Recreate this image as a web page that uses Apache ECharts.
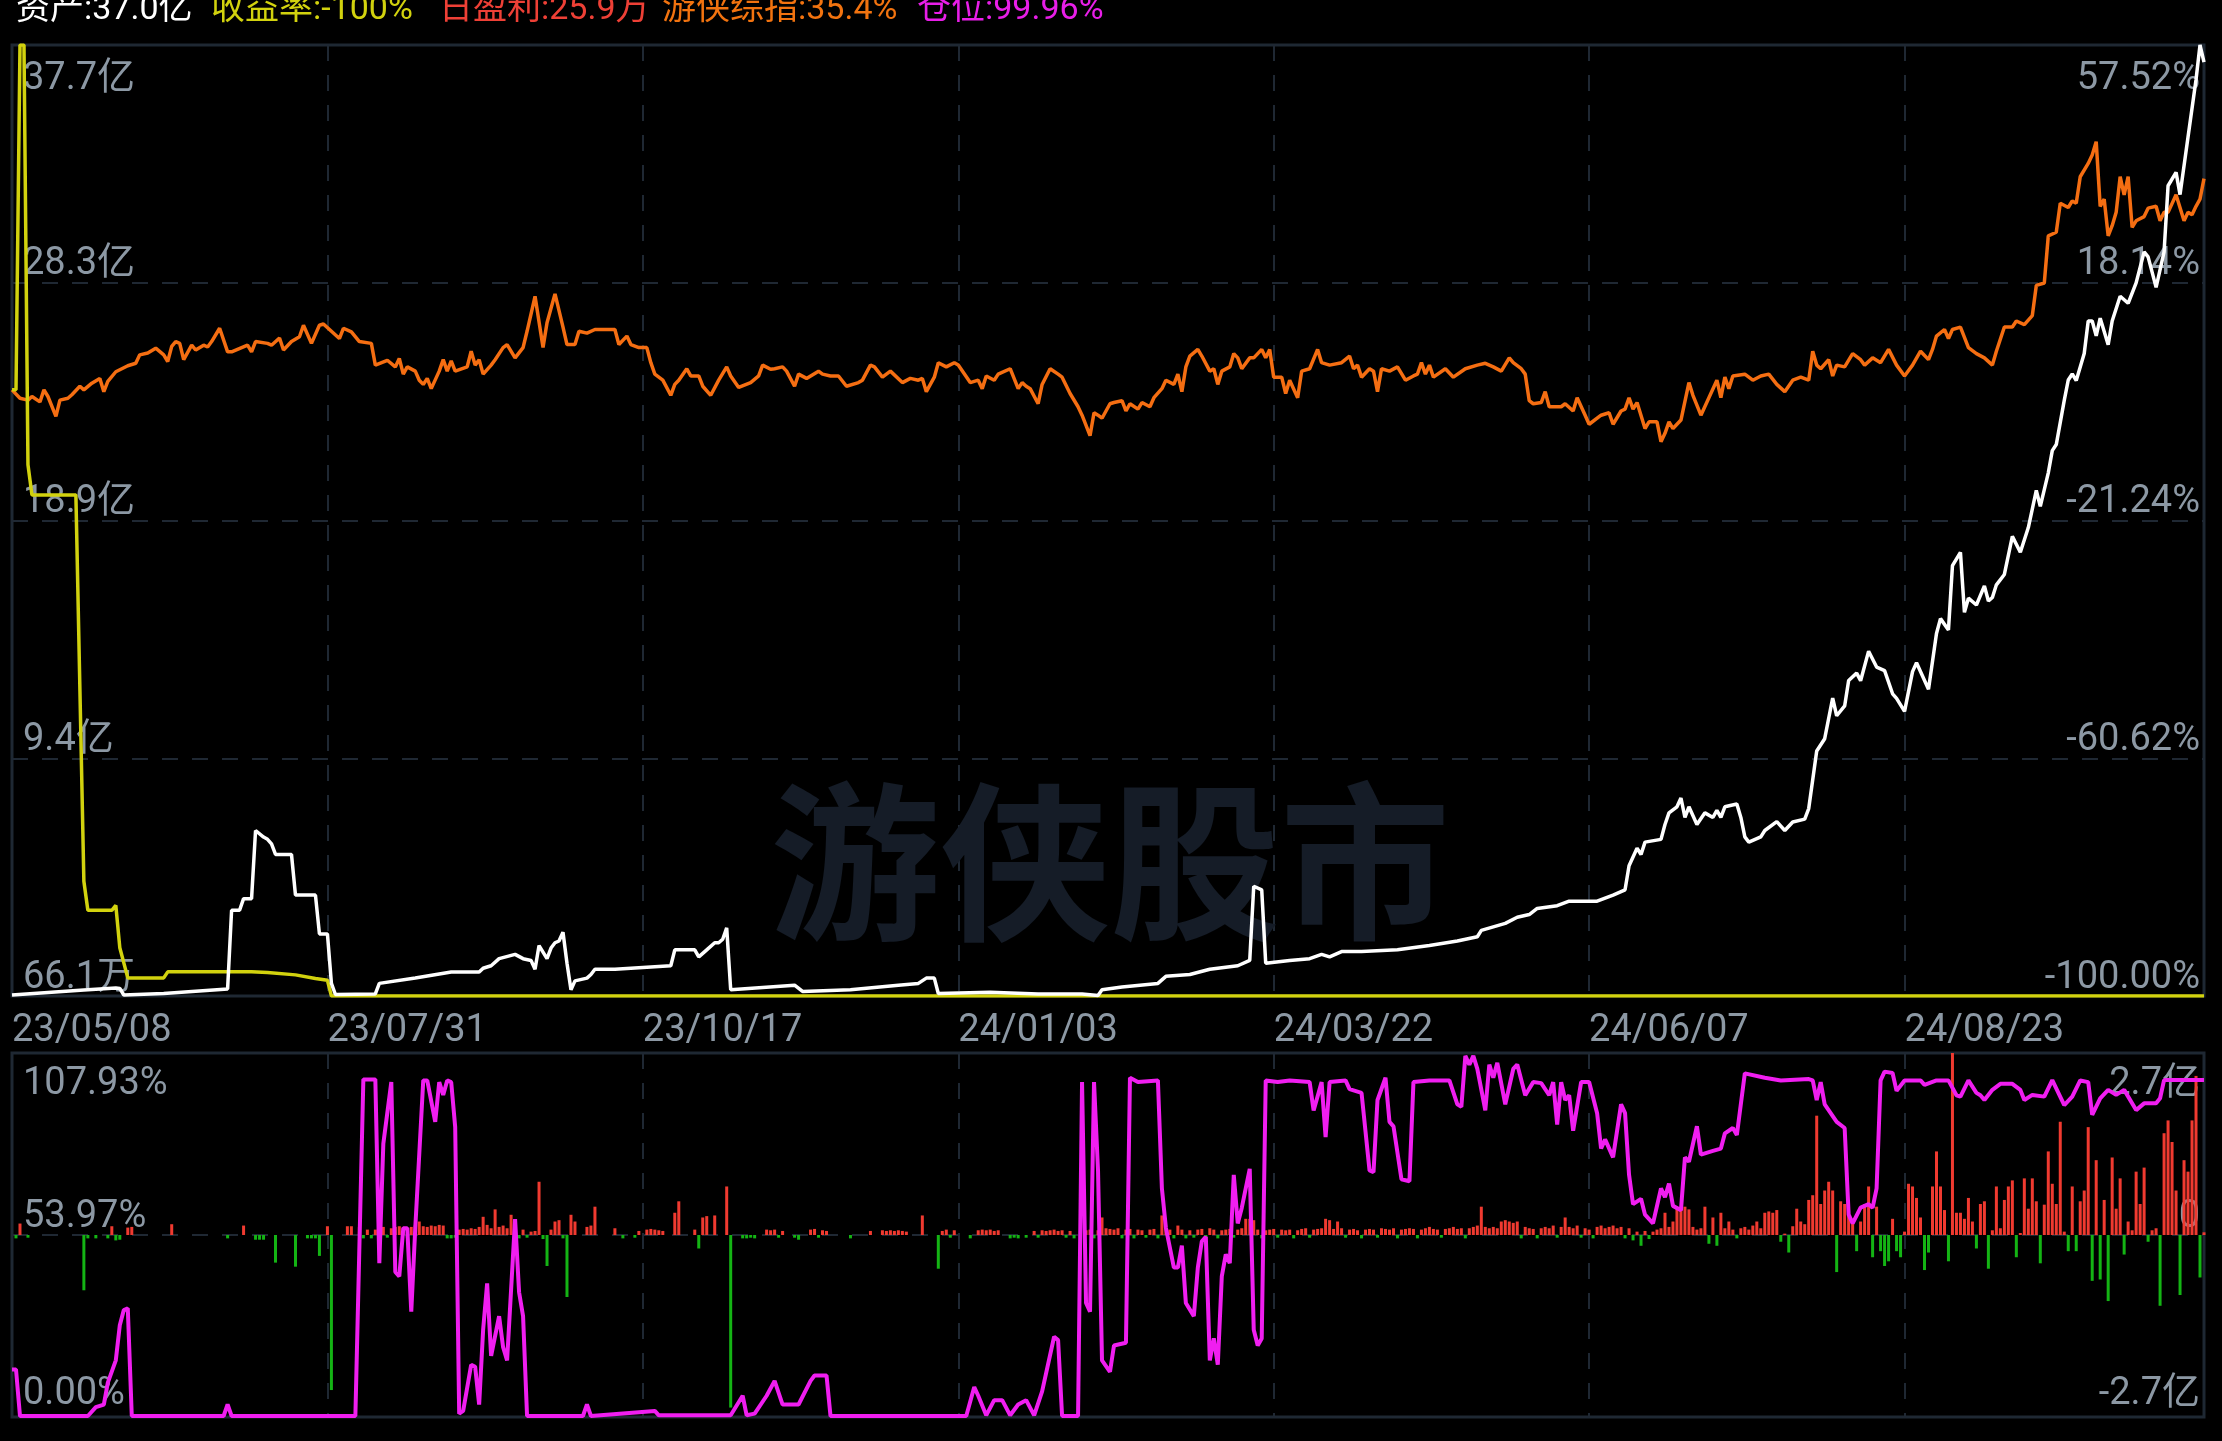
<!DOCTYPE html>
<html>
<head>
<meta charset="utf-8">
<script src="https://cdn.jsdelivr.net/npm/echarts@6/dist/echarts.min.js"></script>
<style>
html,body{margin:0;padding:0;background:#000;}
#c{width:2222px;height:1441px;}
</style>
</head>
<body>
<div id="c"></div>
<script>
// ---------------- data ----------------
const dayCount = 550;
const tickStep = 79;
const xTickLabels = ['23/05/08','23/07/31','23/10/17','24/01/03','24/03/22','24/06/07','24/08/23'];

const assetMax = 37.70;
const assetTicks = ['66.1万','9.4亿','18.9亿','28.3亿','37.7亿'];
const pctMin = -100, pctMax = 57.52;
const pctTickValues = [-100, -60.62, -21.24, 18.14, 57.52];
const pctTickLabels = ['-100.00%','-60.62%','-21.24%','18.14%','57.52%'];
const posMax = 107.93;
const posTicks = ['0.00%','53.97%','107.93%'];
const profitMax = 2.7;
const profitTicks = ['-2.7亿','0','2.7亿'];

const legendTexts = ['资产:37.0亿','收益率:-100%','日盈利:25.9万','游侠综指:35.4%','仓位:99.96%'];
const watermarkText = '游侠股市';

// 资产 (亿) — [dayIndex, value]
const assetLine = [
[0,0.04],[18,0.24],[26,0.32],[27,0.3],[28,0.04],[38,0.1],[54,0.28],[55,3.4],[57,3.4],[58,3.86],[60,3.86],[61,6.56],[63,6.3],[64,6.21],[65,6.03],[66,5.61],[70,5.61],[71,4.0],[76,4.0],[77,2.46],[79,2.46],[80,0.5],[81,0.06],[91,0.08],[92,0.5],[101,0.71],[110,0.95],[117,0.95],[118,1.1],[120,1.2],[122,1.48],[126,1.65],[128,1.48],[130,1.41],[131,1.06],[132,2.0],[134,1.48],[135,1.9],[136,2.11],[137,2.18],[138,2.53],[139,1.3],[140,0.25],[141,0.6],[144,0.71],[145,0.85],[146,1.06],[151,1.06],[158,1.13],[165,1.2],[166,1.83],[171,1.83],[172,1.55],[174,1.83],[176,2.11],[177,2.11],[178,2.25],[179,2.7],[180,0.25],[196,0.43],[198,0.18],[210,0.25],[222,0.43],[227,0.5],[229,0.71],[231,0.71],[232,0.1],[245,0.15],[257,0.08],[268,0.08],[272,0.02],[273,0.25],[278,0.36],[287,0.5],[289,0.78],[295,0.85],[300,1.06],[307,1.2],[310,1.41],[311,4.35],[313,4.21],[314,1.3],[320,1.41],[325,1.48],[328,1.65],[330,1.55],[333,1.76],[338,1.76],[347,1.83],[355,2.0],[362,2.18],[367,2.35],[368,2.6],[374,2.88],[377,3.12],[380,3.23],[382,3.47],[387,3.58],[390,3.76],[397,3.76],[401,4.0],[404,4.21],[405,5.16],[407,5.86],[408,5.61],[409,6.1],[413,6.21],[414,6.8],[415,7.26],[417,7.5],[418,7.85],[419,7.08],[420,7.5],[422,6.8],[424,7.26],[426,7.08],[427,7.36],[428,7.08],[429,7.5],[432,7.61],[433,7.08],[434,6.31],[435,6.1],[438,6.31],[439,6.56],[442,6.91],[444,6.56],[446,6.9],[449,7.01],[450,7.43],[452,9.71],[454,10.2],[456,11.81],[457,11.11],[459,11.5],[460,12.51],[462,12.8],[463,12.5],[465,13.67],[467,13.04],[469,12.9],[471,11.98],[472,11.8],[474,11.28],[476,12.86],[477,13.21],[480,12.16],[482,14.37],[483,14.96],[485,14.51],[486,17.06],[488,17.59],[489,15.21],[490,15.77],[492,15.5],[494,16.26],[495,15.66],[496,15.8],[497,16.3],[499,16.71],[501,18.22],[503,17.59],[505,18.57],[507,20.04],[508,19.41],[510,20.74],[511,21.62],[512,21.86],[514,23.61],[515,24.42],[516,24.66],[517,24.4],[519,25.47],[520,26.76],[521,26.76],[522,26.17],[523,26.87],[525,25.82],[526,26.76],[528,27.74],[530,27.46],[532,28.27],[534,29.5],[535,29.3],[537,28.09],[539,29.5],[540,32.12],[542,32.65],[543,31.77],[545,34.05],[547,36.32],[548,37.7],[549,37.02]
];

// 收益率 (%)
const returnLine = [
[0,0.4],[1,0.4],[2,57.5],[3,57.5],[4,-12],[5,-17],[16,-17],[18,-81],[19,-85.8],[25,-85.8],[26,-85],[27,-92],[29,-97],[38,-97],[39,-96],[60,-96],[64,-96.1],[71,-96.5],[76,-97.1],[79,-97.4],[80,-100],[549,-100]
];

// 游侠综指 (%)
const indexLine = [
[0,0.4],[2,-1.0],[4,-1.3],[5,-0.7],[7,-1.6],[8,0.4],[9,-0.7],[11,-4.0],[12,-1.3],[14,-1.0],[15,-0.4],[17,1.0],[18,0.4],[20,1.5],[22,2.3],[23,0.1],[24,1.8],[26,3.4],[29,4.4],[31,4.8],[32,6.2],[34,6.5],[36,7.3],[38,6.2],[39,5.1],[40,7.6],[41,8.4],[42,8.1],[43,5.4],[45,7.8],[46,7.0],[48,7.8],[49,7.5],[50,8.4],[52,10.6],[54,6.7],[55,6.7],[59,7.8],[60,6.7],[61,8.4],[64,8.1],[65,7.8],[67,9.0],[68,7.0],[70,8.4],[72,9.2],[73,11.1],[75,8.1],[77,11.1],[78,11.3],[82,8.9],[83,10.6],[85,10.0],[87,8.4],[90,8.1],[91,4.5],[94,5.3],[96,4.2],[97,5.6],[98,3.0],[99,4.2],[101,3.5],[102,2.0],[103,1.3],[104,2.3],[105,0.6],[107,3.5],[108,5.4],[109,3.5],[110,5.2],[111,3.5],[114,4.2],[115,6.8],[116,4.5],[117,5.4],[118,3.0],[120,4.5],[121,5.4],[123,7.4],[124,7.9],[126,5.7],[128,7.4],[129,10.1],[131,15.9],[133,7.4],[134,11.5],[136,16.3],[138,10.8],[139,7.9],[141,7.9],[142,10.1],[144,9.8],[146,10.4],[148,10.4],[151,10.4],[152,7.9],[154,9.3],[155,7.9],[157,7.4],[159,7.4],[160,4.9],[161,3.0],[163,2.0],[165,-0.5],[166,1.3],[167,2.0],[169,3.9],[170,2.7],[172,2.7],[173,1.0],[175,-0.5],[177,2.0],[179,4.2],[180,2.7],[182,0.8],[185,1.6],[187,2.7],[188,4.5],[190,3.8],[191,3.9],[193,4.2],[194,3.5],[196,1.0],[197,3.0],[199,2.3],[202,3.5],[203,3.0],[205,2.7],[207,2.7],[209,1.0],[212,1.6],[213,2.0],[215,4.5],[216,4.2],[218,2.5],[220,3.5],[223,1.6],[225,2.3],[227,2.0],[228,2.3],[229,0.1],[231,2.5],[232,4.9],[234,4.2],[236,4.9],[237,4.5],[240,1.6],[242,2.0],[243,0.6],[244,2.7],[246,2.0],[247,3.0],[250,3.9],[252,0.6],[253,1.6],[254,1.0],[255,0.6],[257,-1.9],[258,1.3],[260,3.9],[262,3.0],[263,2.5],[265,-0.2],[267,-2.4],[268,-3.8],[270,-7.2],[271,-3.4],[272,-3.8],[273,-4.3],[275,-1.9],[276,-1.7],[278,-1.4],[279,-3.1],[280,-1.9],[282,-2.8],[283,-1.7],[285,-2.4],[286,-0.9],[288,0.6],[289,2.0],[291,1.3],[292,3.0],[293,0.1],[294,4.2],[295,6.0],[297,7.1],[298,6.0],[300,3.5],[301,3.9],[302,1.3],[303,3.5],[305,4.2],[306,6.4],[307,5.7],[308,3.9],[310,5.7],[311,5.7],[313,7.1],[314,5.7],[315,7.1],[316,2.5],[318,2.5],[319,-0.2],[320,2.0],[322,-0.9],[323,3.5],[325,3.9],[327,7.1],[328,4.9],[330,4.5],[333,4.9],[335,6.0],[336,3.9],[337,4.5],[338,2.5],[340,3.9],[341,3.5],[342,0.1],[343,3.9],[345,3.5],[347,4.2],[349,2.0],[351,2.7],[352,3.0],[353,4.9],[354,3.0],[355,4.5],[356,2.5],[359,3.9],[361,2.5],[364,3.9],[367,4.5],[369,4.8],[371,4.2],[373,3.5],[375,5.7],[376,4.9],[378,3.9],[379,3.0],[380,-1.4],[381,-1.9],[383,-1.7],[384,0.1],[385,-2.4],[388,-2.4],[389,-1.9],[391,-3.1],[392,-0.9],[394,-3.8],[395,-5.3],[398,-3.8],[400,-3.4],[401,-5.3],[403,-3.1],[404,-2.8],[405,-0.9],[406,-2.8],[407,-1.7],[409,-6.0],[410,-4.9],[412,-4.9],[413,-8.2],[414,-6.8],[415,-4.9],[416,-6.0],[418,-4.6],[420,1.6],[421,-0.5],[423,-3.8],[425,-0.9],[427,2.0],[428,-0.9],[429,2.5],[430,0.6],[431,2.7],[434,3.0],[436,2.0],[438,2.7],[440,3.0],[442,1.3],[444,0.1],[446,2.0],[448,2.5],[450,2.0],[451,6.8],[452,4.5],[453,3.9],[455,5.4],[456,2.7],[457,4.5],[459,4.2],[461,6.4],[463,5.4],[464,4.5],[466,5.7],[468,4.9],[470,7.1],[472,4.5],[474,2.7],[476,4.5],[478,6.8],[480,5.4],[481,7.1],[482,9.3],[484,10.4],[485,8.9],[486,10.4],[488,10.8],[490,7.4],[492,6.4],[494,5.7],[496,4.5],[497,6.8],[499,10.8],[501,10.8],[502,11.8],[504,11.2],[506,12.7],[507,17.7],[509,18.1],[510,25.9],[512,26.5],[513,31.3],[515,30.6],[516,31.7],[517,31.3],[518,35.7],[520,37.9],[521,39.3],[522,41.5],[523,30.8],[524,32.0],[525,25.9],[526,27.6],[527,29.8],[528,35.7],[529,32.7],[530,35.7],[531,27.3],[532,28.4],[534,29.1],[535,30.5],[537,30.8],[538,28.4],[539,29.8],[540,29.8],[542,32.7],[544,28.4],[545,29.8],[546,29.4],[547,30.8],[548,32.0],[549,35.4]
];

// 仓位 (%)
const positionLine = [
[0,14.1],[1,14.1],[2,0.3],[19,0.3],[21,2.9],[23,3.7],[24,10.2],[26,16.8],[27,27.2],[28,31.7],[29,32.2],[30,0.3],[53,0.3],[54,3.7],[55,0.3],[86,0.3],[88,100.1],[91,100.1],[92,45.6],[93,81],[95,99.3],[96,43],[97,41.7],[98,56],[99,56],[100,31.2],[101,56],[103,99.8],[104,99.8],[106,87.5],[107,99.3],[108,95.5],[109,99.8],[110,99.3],[111,86],[112,1.0],[113,1.8],[115,15.5],[116,14.9],[117,3.7],[118,25.9],[119,39.6],[120,18.1],[122,29.9],[123,20.7],[124,16.8],[126,58.7],[127,37],[128,29.9],[129,0.3],[143,0.3],[144,3.7],[145,0.3],[161,1.8],[162,0.5],[180,0.5],[183,6.3],[184,0.5],[186,1],[189,6.3],[191,10.7],[193,3.7],[197,3.7],[200,10.7],[201,12.3],[204,12.3],[205,0.3],[239,0.3],[241,8.9],[242,6.3],[244,0.5],[246,5.0],[248,5.0],[250,0.5],[252,3.7],[254,5.0],[256,0.5],[258,7.6],[261,23.8],[262,22.8],[263,0.3],[267,0.3],[268,99.3],[269,33.8],[270,31.2],[271,99.3],[272,73.1],[273,16.8],[275,13.4],[276,21.2],[279,22],[280,100.6],[282,99.3],[287,99.8],[288,67.8],[289,56.1],[291,44.3],[292,44.3],[293,50.8],[294,33.8],[296,29.9],[297,44.3],[298,52.1],[299,53.4],[300,16.8],[301,23.3],[302,15.5],[303,41.7],[304,48.2],[305,45.6],[306,71.8],[307,57.4],[308,62],[310,73.6],[311,25.9],[312,21.2],[313,23.3],[314,99.8],[317,99.3],[320,99.8],[325,99.3],[326,90.9],[328,99.3],[329,83],[330,99.3],[334,99.8],[335,97.2],[338,96.1],[340,73.1],[341,72.6],[342,94],[344,100.6],[345,87.5],[346,86.2],[348,70.5],[350,69.9],[351,99.3],[355,99.8],[360,99.8],[362,92.7],[363,92],[364,107.1],[365,104.5],[366,107.1],[367,103.2],[369,90.9],[370,104.5],[371,100.6],[372,105],[374,92.7],[376,103.2],[377,104.5],[379,95.4],[381,99.3],[383,99],[385,95.4],[386,99.3],[387,86.7],[388,99.3],[389,94],[390,95.4],[391,84.9],[393,99.3],[395,99.3],[397,90.1],[398,79.6],[399,82.3],[401,77],[403,92.7],[404,90.1],[405,71.8],[406,63.1],[408,64.7],[409,60],[411,57.4],[413,67.8],[414,65.2],[415,69.2],[416,62.6],[418,61.3],[419,77],[420,75.7],[422,86.2],[423,77.8],[426,78.9],[428,79.6],[429,84.1],[431,85.7],[432,83.6],[434,101.9],[439,100.6],[443,99.8],[450,100.2],[451,99.8],[452,94],[453,99.3],[454,92.7],[457,87.5],[459,85.7],[460,60],[461,57.4],[463,62.1],[465,63.1],[466,62],[467,67.8],[468,99.8],[469,102.4],[471,102],[472,96.7],[474,99.8],[478,99.8],[479,98.5],[482,99.8],[485,99.8],[487,95.4],[488,95],[490,99.8],[492,96.1],[493,95.4],[494,94],[496,97],[498,98.8],[501,98.8],[503,97],[504,94],[506,95.5],[509,95],[511,99.9],[514,92.5],[516,95],[518,99.8],[520,99.3],[521,89.6],[523,94.5],[525,97],[527,95.5],[529,97],[532,91],[534,93],[537,93],[538,94.5],[539,99.9],[549,99.96]
];

// 日盈利 (亿), one value per day
const dailyProfit = [
0,-0.05,0.17,0,-0.04,0,0,0,0,0,
0,0,0,0,0,0,0,0,-0.82,-0.05,
0,-0.05,0,0,-0.05,0.13,-0.08,-0.07,0,0.11,
0.12,0,0,0,0,0,0,0,0,0,
0.16,0,0,0,0,0,0,0,0,0,
0,0,0,0,-0.05,0,0,0,0.14,0,
0,-0.07,-0.07,-0.07,0,0,-0.41,0,0,0,
0,-0.47,0,0,-0.05,-0.05,-0.05,-0.31,0,0.13,
-2.30,0,0,0,0.13,0.13,0,0.12,-0.05,0.08,
-0.05,0.08,0.32,0.12,-0.04,0.10,0.12,0.13,0.12,-0.04,
0.12,0.14,0.20,0.13,0.12,0.14,0.13,0.15,0.14,-0.05,
-0.05,-0.04,0.08,0.09,0.08,0.10,0.09,0.12,0.27,0.15,
0.10,0.38,0.12,0.14,0.10,0.30,0.13,-0.05,0.08,-0.04,
0.05,0.06,0.79,-0.06,-0.46,0.08,0.20,0.22,-0.05,-0.92,
0.30,0.20,0,0,0.12,0.14,0.42,0,0,0,
0,0.10,0,-0.05,0,0,-0.04,0.06,0,0.08,
0.09,0.08,0.07,0.06,0,0,0.33,0.50,0,0,
0,0.08,-0.20,0.26,0.28,0,0.29,0,0,0.72,
-2.56,0,0,-0.05,-0.05,-0.04,-0.05,0,0,0.08,
0.07,0.08,-0.04,0.06,0,0,-0.04,-0.07,0,0,
0.08,0.09,-0.04,0.07,0.06,0,0,0,0,0,
-0.05,0,0,0,0,0.06,0,0,0.07,0.06,
0.07,0.06,0.07,0.06,0.05,0,0,0,0.29,0,
0,0,-0.50,0.06,0.08,-0.04,0.07,0,0,0,
-0.05,0,0.07,0.08,0.07,0.08,0.06,0.07,0,0,
-0.05,-0.04,-0.05,0,-0.04,0,0.06,-0.04,0.07,0.06,
0.07,0.08,0.06,0.07,-0.04,0.06,-0.05,0,0,0.07,
0.08,-0.05,0.07,0.26,0.10,0.09,0.08,0.10,-0.05,0.08,
0.09,-0.05,0.08,0.07,-0.04,0.08,0.09,-0.05,0.29,0.10,
0.08,-0.05,0.14,0.08,-0.05,0.07,-0.04,0.08,0.09,-0.05,
0.10,0.08,-0.05,0.07,0.08,0.09,-0.04,0.08,0.10,0.24,
0.24,0.22,0.08,-0.05,0.07,0.08,0.09,-0.04,0.08,0.07,
0.08,-0.05,0.07,0.09,0.10,-0.04,0.08,0.09,0.10,0.24,
0.22,0.09,0.20,0.10,-0.04,0.08,0.09,0.07,-0.05,0.08,
0.09,0.08,-0.04,0.10,0.09,0.08,0.10,-0.05,0.08,0.09,
0.10,0.09,-0.05,0.08,0.10,0.12,0.09,0.08,-0.04,0.09,
0.10,0.12,0.09,0.10,-0.05,0.10,0.12,0.14,0.42,0.12,
0.10,0.12,0.10,0.20,0.22,0.20,0.18,0.20,-0.05,0.12,
0.10,0.09,-0.05,0.10,0.12,0.10,0.14,-0.04,0.12,0.26,
0.12,0.10,0.14,-0.04,0.10,0.08,-0.05,0.12,0.14,0.10,
0.12,0.14,0.10,0.12,-0.05,0.10,-0.08,0.05,-0.16,0.06,
-0.06,0.05,0.08,0.10,0.33,0.12,0.20,0.42,0.40,0.42,
0.38,0.12,0.08,0.10,0.42,-0.13,0.26,-0.16,0.33,0.10,
0.20,0.08,-0.05,0.10,0.12,0.08,0.14,0.20,0.10,0.33,
0.35,0.33,0.37,-0.10,0.02,-0.26,0.13,0.39,0.20,0.16,
0.52,0.59,1.77,0.46,0.66,0.79,0.66,-0.55,0.50,0.46,
0.29,0.24,-0.24,0.20,0.46,0.72,-0.33,0.42,-0.24,-0.46,
-0.39,0.24,-0.24,-0.33,0.05,0.76,0.72,0.55,0.26,-0.52,
-0.26,0.72,1.24,0.72,0.37,-0.39,2.75,0.33,0.33,0.24,
0.55,0.20,-0.20,0.46,0.50,-0.50,0.07,0.72,0.10,0.52,
0.72,0.81,-0.33,0.03,0.84,0.39,0.84,0.50,-0.42,0.45,
1.24,0.76,0.46,1.68,0.05,-0.24,0.72,-0.24,0.50,0.66,
1.60,-0.68,1.11,-0.66,0.52,-0.98,1.15,0.39,0.84,-0.29,
0.20,0.07,0.94,0.46,1.00,-0.10,0.07,0.10,-1.05,1.51,
1.70,1.38,0.66,-0.89,1.11,0.94,1.70,2.36,-0.63,0.04
];

// ---------------- chart ----------------
const categories = Array.from({length: dayCount}, (_, i) => String(i));

const C = {
  label: '#8c98a4',
  grid: '#1e2833',
  split: '#1f2833',
  white: '#ffffff',
  yellow: '#d2d20e',
  orange: '#f56e12',
  red: '#f03a30',
  green: '#14b414',
  magenta: '#f01ef0',
  watermark: '#151c27'
};
const legendColors = [C.white, C.yellow, '#ee4036', '#f2730f', '#e81ee8'];
const legendX = [16, 211, 439, 662, 917];

const FONT = 'Roboto, "Noto Sans CJK SC", sans-serif';
const labelBase = {color: C.label, fontSize: 38, fontFamily: FONT, fontWeight: 'normal'};
const tok = (pad) => Object.assign({padding: pad}, labelBase);
const rich = {
  hi: tok([68, 0, 0, 0]),
  hi2: tok([62, 0, 0, 0]),
  lo: tok([0, 0, 36, 0]),
  lo2: tok([0, 0, 46, 0]),
  lo3: tok([0, 0, 46, 0])
};
const dashed = {show: true, lineStyle: {color: C.split, width: 2, type: [16, 14]}};

function wrap(style, text) { return '{' + style + '|' + text + '}'; }

const option = {
  backgroundColor: '#000',
  animation: false,
  grid: [
    {left: 12, right: 18, top: 45, height: 951, show: true, borderColor: C.grid, borderWidth: 3},
    {left: 12, right: 18, top: 1053, height: 364, show: true, borderColor: C.grid, borderWidth: 3}
  ],
  xAxis: [
    {
      gridIndex: 0, type: 'category', data: categories, boundaryGap: false,
      axisLine: {show: false}, axisTick: {show: false},
      axisLabel: Object.assign({}, labelBase, {
        interval: tickStep - 1, align: 'left', margin: 16,
        formatter: (v, i) => {
          const k = i / tickStep;
          return Number.isInteger(k) && xTickLabels[k] !== undefined ? xTickLabels[k] : '';
        }
      }),
      splitLine: Object.assign({interval: tickStep - 1}, dashed)
    },
    {
      gridIndex: 1, type: 'category', data: categories, boundaryGap: false,
      axisLine: {show: false}, axisTick: {show: false},
      axisLabel: {show: false, interval: tickStep - 1},
      splitLine: Object.assign({interval: tickStep - 1}, dashed)
    }
  ],
  yAxis: [
    { // 资产
      gridIndex: 0, type: 'value', position: 'left', min: 0, max: assetMax,
      interval: assetMax / (assetTicks.length - 1),
      axisLine: {show: false}, axisTick: {show: false},
      axisLabel: Object.assign({}, labelBase, {
        inside: true, margin: 11, rich: rich,
        formatter: (v, i) => assetTicks[i] === undefined ? '' :
          wrap(i === assetTicks.length - 1 ? 'hi' : 'lo', assetTicks[i])
      }),
      splitLine: dashed
    },
    { // 收益率 / 游侠综指
      gridIndex: 0, type: 'value', position: 'right', min: pctMin, max: pctMax,
      axisLine: {show: false}, axisTick: {show: false},
      axisLabel: Object.assign({}, labelBase, {
        inside: true, margin: 4, rich: rich, customValues: pctTickValues,
        formatter: (v) => {
          const k = pctTickValues.findIndex(p => Math.abs(p - v) < 1e-6);
          if (k < 0) return '';
          return wrap(k === pctTickValues.length - 1 ? 'hi' : 'lo', pctTickLabels[k]);
        }
      }),
      splitLine: {show: false}
    },
    { // 仓位
      gridIndex: 1, type: 'value', position: 'left', min: 0, max: posMax,
      interval: posMax / (posTicks.length - 1),
      axisLine: {show: false}, axisTick: {show: false},
      axisLabel: Object.assign({}, labelBase, {
        inside: true, margin: 11, rich: rich,
        formatter: (v, i) => posTicks[i] === undefined ? '' :
          wrap(i === 0 ? 'lo2' : (i === posTicks.length - 1 ? 'hi2' : 'lo'), posTicks[i])
      }),
      splitLine: dashed
    },
    { // 日盈利
      gridIndex: 1, type: 'value', position: 'right', min: -profitMax, max: profitMax,
      interval: profitMax,
      axisLine: {show: false}, axisTick: {show: false},
      axisLabel: Object.assign({}, labelBase, {
        inside: true, margin: 4, rich: rich,
        formatter: (v, i) => profitTicks[i] === undefined ? '' :
          wrap(i === 0 ? 'lo3' : (i === profitTicks.length - 1 ? 'hi2' : 'lo'), profitTicks[i])
      }),
      splitLine: {show: false}
    }
  ],
  graphic: [
    {
      type: 'text', x: 1110, y: 862, z: 1, silent: true,
      style: {text: watermarkText, fill: C.watermark, fontSize: 170, fontWeight: 'bold',
              fontFamily: '"Noto Sans CJK SC", sans-serif', align: 'center', verticalAlign: 'middle'}
    }
  ].concat(legendTexts.map((t, i) => ({
    type: 'text', x: legendX[i], y: 10, z: 10,
    style: {text: t, fill: legendColors[i], fontSize: 34, fontFamily: FONT, verticalAlign: 'middle'}
  }))),
  series: [
    {
      name: '游侠综指', type: 'line', xAxisIndex: 0, yAxisIndex: 1, data: indexLine,
      showSymbol: false, symbol: 'none', z: 3,
      lineStyle: {color: C.orange, width: 3.5}
    },
    {
      name: '收益率', type: 'line', xAxisIndex: 0, yAxisIndex: 1, data: returnLine,
      showSymbol: false, symbol: 'none', z: 4,
      lineStyle: {color: C.yellow, width: 3.5}
    },
    {
      name: '资产', type: 'line', xAxisIndex: 0, yAxisIndex: 0, data: assetLine,
      showSymbol: false, symbol: 'none', z: 5,
      lineStyle: {color: C.white, width: 3.5}
    },
    {
      name: '日盈利', type: 'bar', xAxisIndex: 1, yAxisIndex: 3, data: dailyProfit,
      barWidth: 3, z: 3,
      itemStyle: {color: (p) => p.value >= 0 ? C.red : C.green}
    },
    {
      name: '仓位', type: 'line', xAxisIndex: 1, yAxisIndex: 2, data: positionLine,
      showSymbol: false, symbol: 'none', z: 5,
      lineStyle: {color: C.magenta, width: 4}
    }
  ]
};

const chart = echarts.init(document.getElementById('c'), null, {width: 2222, height: 1441});
chart.setOption(option);
</script>
</body>
</html>
